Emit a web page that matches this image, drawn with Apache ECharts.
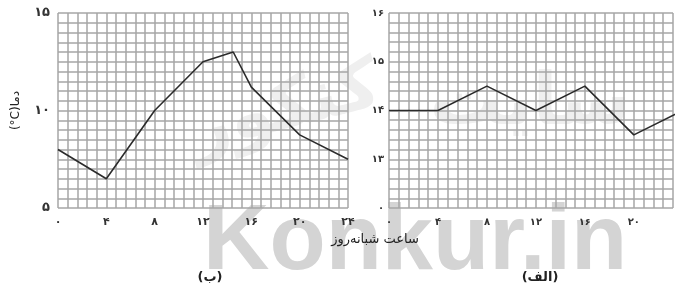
<!DOCTYPE html>
<html>
<head>
<meta charset="utf-8">
<script src="https://cdn.jsdelivr.net/npm/echarts@6/dist/echarts.min.js"></script>
<style>
    html, body { margin: 0; padding: 0; background: #fff; }
    #main { width: 676px; height: 292px; }
</style>
</head>
<body>
<div id="main"></div>
<script>
    // chart (ب) - left
    var hoursB = [0, 4, 8, 12, 14.5, 16, 20, 24];
    var tempB = [8, 6.5, 10, 12.5, 13, 11.2, 8.75, 7.5];
    // chart (الف) - right (cut off at the page edge)
    var hoursA = [0, 4, 8, 12, 16, 20, 24];
    var tempA = [14, 14, 14.5, 14, 14.5, 13.5, 14];

    var hourTicks = [0, 4, 8, 12, 16, 20, 24];
    var tempTicksB = [5, 10, 15];
    var tempTicksA = [13, 14, 15, 16];

    var xName = 'ساعت شبانه‌روز';
    var yName = '(°C)دما';
    var captionB = '(ب)';
    var captionA = '(الف)';

    function fa(n) {
        return String(n).replace(/\d/g, function (d) { return '۰۱۲۳۴۵۶۷۸۹'[d]; });
    }
    function near(v, list) {
        for (var i = 0; i < list.length; i++) {
            if (Math.abs(v - list[i]) < 1e-6) return list[i];
        }
        return null;
    }
    function pairs(xs, ys) {
        var out = [];
        for (var i = 0; i < xs.length; i++) out.push([xs[i], ys[i]]);
        return out;
    }

    var gridLine = { show: true, lineStyle: { color: '#a6a6a6', width: 1.5 } };
    var font = 'DejaVu Sans';

    var myChart = echarts.init(document.getElementById('main'));
    var option = {
        animation: false,
        backgroundColor: '#fff',
        graphic: [
            {
                type: 'text', z: -10, x: 203, y: 198,
                style: { text: 'Konkur.in', font: 'bold 92px "Liberation Sans"', fill: '#d4d4d4' }
            },
            {
                type: 'text', z: -10, x: 285, y: 110, rotation: 0.25,
                style: { text: 'کنکور', font: 'bold 70px "DejaVu Sans"', fill: '#efefef',
                         textAlign: 'center', textVerticalAlign: 'middle' }
            },
            {
                type: 'text', z: -10, x: 530, y: 105,
                style: { text: 'سایت', font: 'bold 72px "DejaVu Sans"', fill: '#efefef',
                         textAlign: 'center', textVerticalAlign: 'middle' }
            }
        ],
        title: [
            { text: captionB, left: 205, top: 266, textAlign: 'center',
              textStyle: { fontSize: 13, fontWeight: 'bold', fontFamily: font, color: '#222' } },
            { text: captionA, left: 535, top: 266, textAlign: 'center',
              textStyle: { fontSize: 13, fontWeight: 'bold', fontFamily: font, color: '#222' } },
            { text: xName, left: 370, top: 228, textAlign: 'center',
              textStyle: { fontSize: 13, fontWeight: 'normal', fontFamily: font, color: '#222' } }
        ],
        grid: [
            { left: 58, top: 13, width: 290, height: 195 },
            { left: 389, top: 13, right: 0, height: 195 }
        ],
        xAxis: [
            {
                gridIndex: 0, type: 'value', min: 0, max: 24, interval: 0.8,
                axisLine: { show: false }, axisTick: { show: false },
                splitLine: gridLine,
                axisLabel: {
                    margin: 9, fontSize: 11, fontWeight: 'bold', fontFamily: font, color: '#333',
                    formatter: function (v) { var t = near(v, hourTicks); return t === null ? '' : fa(t); }
                }
            },
            {
                // the page edge cuts this chart before hour 24
                gridIndex: 1, type: 'value', min: 0, max: 23.2, interval: 0.8,
                axisLine: { show: false }, axisTick: { show: false },
                splitLine: gridLine,
                axisLabel: {
                    margin: 9, fontSize: 10, fontWeight: 'bold', fontFamily: font, color: '#333',
                    formatter: function (v) { var t = near(v, hourTicks); return t === null ? '' : fa(t); }
                }
            }
        ],
        yAxis: [
            {
                gridIndex: 0, type: 'value', min: 5, max: 15, interval: 0.5,
                name: yName, nameLocation: 'middle', nameGap: 36, nameRotate: 90,
                nameTextStyle: { fontSize: 12, fontFamily: font, color: '#222' },
                axisLine: { show: false }, axisTick: { show: false },
                splitLine: gridLine,
                axisLabel: {
                    margin: 8, fontSize: 13, fontWeight: 'bold', fontFamily: font, color: '#333',
                    formatter: function (v) { var t = near(v, tempTicksB); return t === null ? '' : fa(t); }
                }
            },
            {
                gridIndex: 1, type: 'value', min: 12, max: 16, interval: 0.2,
                axisLine: { show: false }, axisTick: { show: false },
                splitLine: gridLine,
                axisLabel: {
                    margin: 5, fontSize: 10, fontWeight: 'bold', fontFamily: font, color: '#333',
                    formatter: function (v) {
                        if (Math.abs(v - 12) < 1e-6) return '۰';
                        var t = near(v, tempTicksA); return t === null ? '' : fa(t);
                    }
                }
            }
        ],
        series: [
            {
                type: 'line', xAxisIndex: 0, yAxisIndex: 0, symbol: 'none',
                lineStyle: { color: '#2b2b2b', width: 1.6 },
                data: pairs(hoursB, tempB)
            },
            {
                type: 'line', xAxisIndex: 1, yAxisIndex: 1, symbol: 'none', clip: true,
                lineStyle: { color: '#2b2b2b', width: 1.6 },
                data: pairs(hoursA, tempA)
            }
        ]
    };
    myChart.setOption(option);
</script>
</body>
</html>
